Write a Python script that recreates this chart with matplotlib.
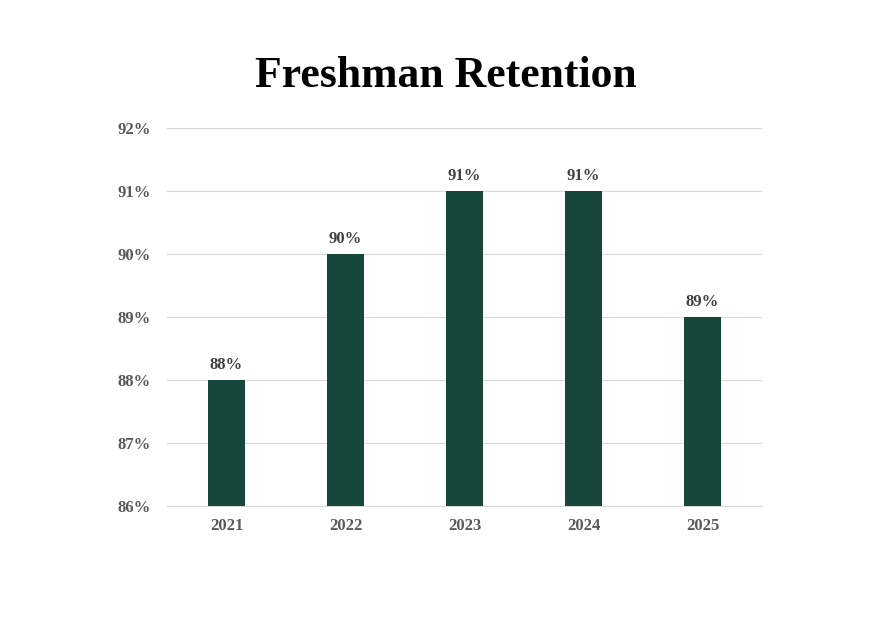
import matplotlib
matplotlib.use("Agg")
import matplotlib.pyplot as plt
from matplotlib.ticker import FuncFormatter

years = ["2021", "2022", "2023", "2024", "2025"]
retention = [88, 90, 91, 91, 89]

plt.rcParams['font.family'] = ['Liberation Serif', 'DejaVu Serif']

fig = plt.figure(figsize=(8.92, 6.38), dpi=100)
ax = fig.add_axes([167/892, 1-506/638, (762-167)/892, (506-128)/638])

x = list(range(len(years)))
bars = ax.bar(x, [v - 86 for v in retention], bottom=86, width=0.31, color="#17473A", zorder=3)
for xi, v in zip(x, retention):
    ax.annotate(f"{v}%", (xi, v), xytext=(0, 5), textcoords="offset points",
                ha="center", va="bottom", fontsize=12, fontweight="bold", color="#404040")

ax.set_xlim(-0.5, 4.5)
ax.set_ylim(86, 92)
ax.set_yticks(range(86, 93))
ax.yaxis.set_major_formatter(FuncFormatter(lambda v, p: f"{int(v)}%"))
ax.set_xticks(x)
ax.set_xticklabels(years)
ax.grid(axis="y", color="#d9d9d9", linewidth=0.8, zorder=0)
for s in ["top", "right", "left"]:
    ax.spines[s].set_visible(False)
ax.spines["bottom"].set_color("#d9d9d9")
ax.tick_params(axis="both", length=0, labelsize=12, labelcolor="#595959")
ax.tick_params(axis="y", pad=11.5)
ax.tick_params(axis="x", pad=9)
for lab in ax.get_xticklabels() + ax.get_yticklabels():
    lab.set_fontweight("bold")

fig.text(0.5, 1-76/638, "Freshman Retention", ha="center", va="center",
         fontsize=31.5, fontweight="bold", color="black")

fig.savefig("out.png", dpi=100)
